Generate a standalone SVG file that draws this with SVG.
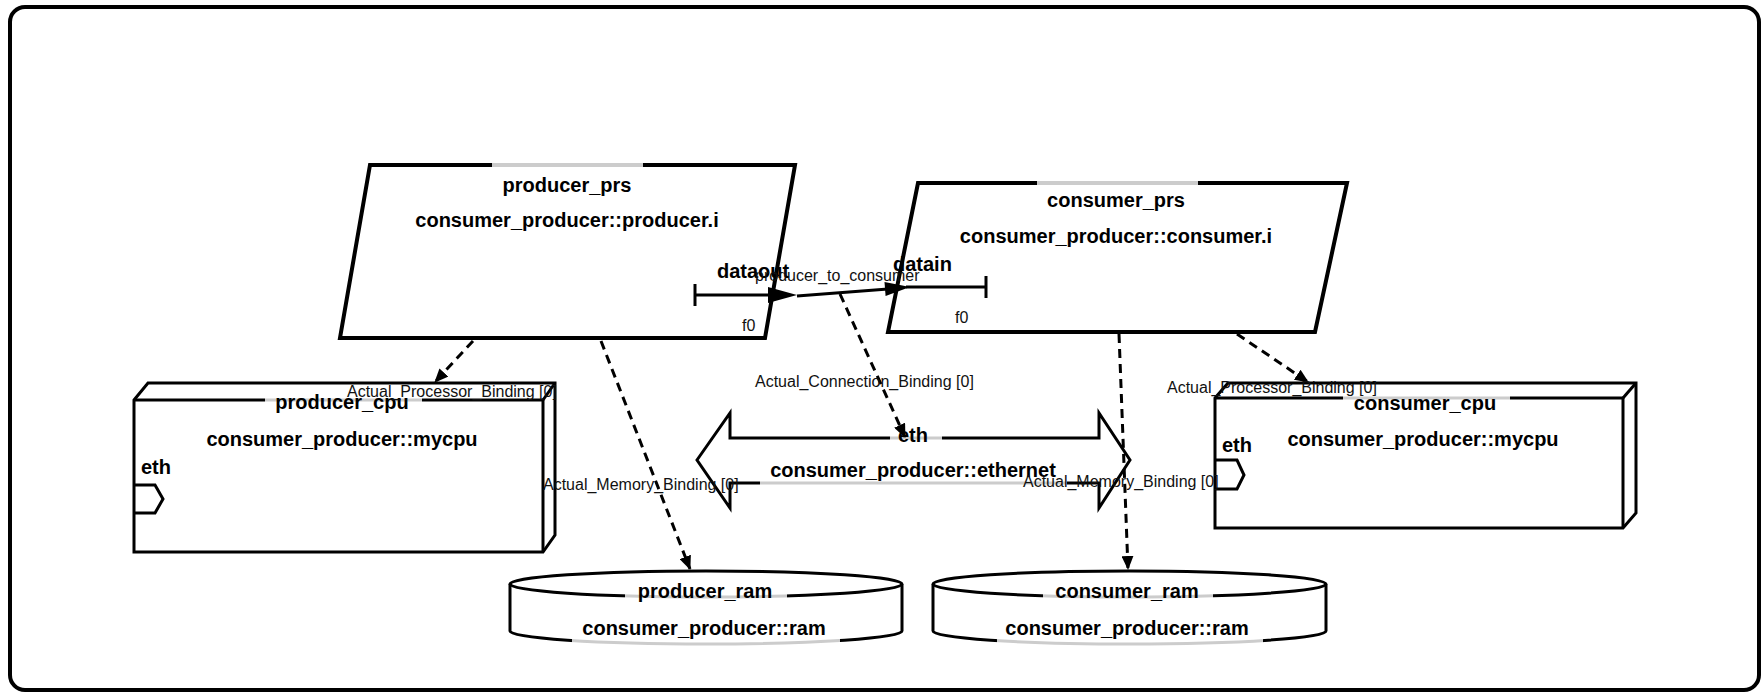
<svg xmlns="http://www.w3.org/2000/svg" width="1763" height="693" viewBox="0 0 1763 693">
<style>
.t{font-family:"Liberation Sans",Arial,sans-serif;font-weight:bold;font-size:20px;fill:#000;text-anchor:middle}
.p{font-family:"Liberation Sans",Arial,sans-serif;font-weight:bold;font-size:20px;fill:#000}
.l{font-family:"Liberation Sans",Arial,sans-serif;font-size:16px;fill:#111}
.s{fill:#fff;stroke:#000;stroke-width:3;stroke-linejoin:miter}
.pr{fill:#fff;stroke:#000;stroke-width:4}
.ln{fill:none;stroke:#000;stroke-width:3}
.bg{fill:#fff;fill-opacity:0.8;stroke:none}
.d{fill:none;stroke:#000;stroke-width:3;stroke-dasharray:9,6;marker-end:url(#ah)}
</style>
<defs>
<marker id="ah" markerUnits="userSpaceOnUse" markerWidth="14" markerHeight="12" refX="13" refY="6" orient="auto">
<path d="M0,0 L14,6 L0,12 z" fill="#000" stroke="none"/>
</marker>
</defs>
<rect x="10" y="7" width="1749" height="683" rx="15" fill="#fff" stroke="#000" stroke-width="4"/>

<g id="producer_prs">
<polygon class="pr" points="370,165 795,165 765,338 340,338"/>
<rect class="bg" x="492" y="161" width="151" height="8"/>
<text class="t" x="567" y="192">producer_prs</text>
<text class="t" x="567" y="227">consumer_producer::producer.i</text>
<line class="ln" x1="695" y1="295" x2="772" y2="295"/>
<line class="ln" x1="695" y1="284" x2="695" y2="306"/>
<polygon points="768,287 797,295 768,303" fill="#000"/>
<text class="p" x="717" y="278">dataout</text>
<text class="l" x="742" y="331">f0</text>
</g>

<g id="consumer_prs">
<polygon class="pr" points="918,183 1347,183 1315,332 888,332"/>
<rect class="bg" x="1037" y="179" width="161" height="8"/>
<text class="t" x="1116" y="207">consumer_prs</text>
<text class="t" x="1116" y="243">consumer_producer::consumer.i</text>
<line class="ln" x1="906" y1="287" x2="986" y2="287"/>
<line class="ln" x1="986" y1="276" x2="986" y2="298"/>
<text class="p" x="893" y="271">datain</text>
<text class="l" x="955" y="323">f0</text>
</g>

<g id="producer_cpu">
<polygon class="s" points="134,400 148,383 555,383 555,535 543,552 134,552"/>
<line class="ln" x1="134" y1="400" x2="543" y2="400"/>
<line class="ln" x1="543" y1="400" x2="543" y2="552"/>
<line class="ln" x1="543" y1="400" x2="555" y2="383"/>
<rect class="bg" x="265" y="396" width="157" height="8"/>
<text class="t" x="342" y="409">producer_cpu</text>
<text class="t" x="342" y="446">consumer_producer::mycpu</text>
<text class="p" x="141" y="474">eth</text>
<polyline class="ln" points="134,485 155,485 163,499 155,513 134,513"/>
</g>

<g id="consumer_cpu">
<polygon class="s" points="1215,398 1228,383 1636,383 1636,513 1623,528 1215,528"/>
<line class="ln" x1="1215" y1="398" x2="1623" y2="398"/>
<line class="ln" x1="1623" y1="398" x2="1623" y2="528"/>
<line class="ln" x1="1623" y1="398" x2="1636" y2="383"/>
<rect class="bg" x="1343" y="394" width="167" height="8"/>
<text class="t" x="1425" y="410">consumer_cpu</text>
<text class="t" x="1423" y="446">consumer_producer::mycpu</text>
<text class="p" x="1222" y="452">eth</text>
<polyline class="ln" points="1215,460 1237,460 1244,475 1237,489 1215,489"/>
</g>

<g id="ethernet">
<polygon class="s" points="697,460 730,413 730,438 1099,438 1099,413 1130,460 1099,508 1099,483 730,483 730,508"/>
<rect class="bg" x="890" y="434" width="52" height="8"/>
<rect class="bg" x="760" y="479" width="307" height="8"/>
<text class="t" x="913" y="442">eth</text>
<text class="t" x="913" y="477">consumer_producer::ethernet</text>
</g>

<g id="producer_ram">
<path class="s" d="M510,584 L510,631 A196,13 0 0 0 902,631 L902,584"/>
<ellipse class="s" cx="706" cy="584" rx="196" ry="13"/>
<rect class="bg" x="625" y="592" width="162" height="9"/>
<rect class="bg" x="572" y="637" width="268" height="9"/>
<text class="t" x="705" y="598">producer_ram</text>
<text class="t" x="704" y="635">consumer_producer::ram</text>
</g>

<g id="consumer_ram">
<path class="s" d="M933,584 L933,631 A196.5,13 0 0 0 1326,631 L1326,584"/>
<ellipse class="s" cx="1129.5" cy="584" rx="196.5" ry="13"/>
<rect class="bg" x="1043" y="592" width="170" height="9"/>
<rect class="bg" x="997" y="637" width="266" height="9"/>
<text class="t" x="1127" y="598">consumer_ram</text>
<text class="t" x="1127" y="635">consumer_producer::ram</text>
</g>

<g id="connectors">
<line x1="797" y1="296" x2="888" y2="289" stroke="#000" stroke-width="3"/>
<polygon points="910,287 885.6,296 884.5,282" fill="#000"/>
<text class="l" x="755" y="281">producer_to_consumer</text>
<path class="d" d="M840,294 L905,437"/>
<text class="l" x="755" y="387">Actual_Connection_Binding [0]</text>
<path class="d" d="M473,341 L435,382"/>
<text class="l" x="347" y="397">Actual_Processor_Binding [0]</text>
<path class="d" d="M1237,334 L1308,382"/>
<text class="l" x="1167" y="393">Actual_Processor_Binding [0]</text>
<path class="d" d="M601,341 L690,569"/>
<text class="l" x="543" y="490">Actual_Memory_Binding [0]</text>
<path class="d" d="M1119,334 L1128,569"/>
<text class="l" x="1023" y="487">Actual_Memory_Binding [0]</text>
</g>
</svg>
